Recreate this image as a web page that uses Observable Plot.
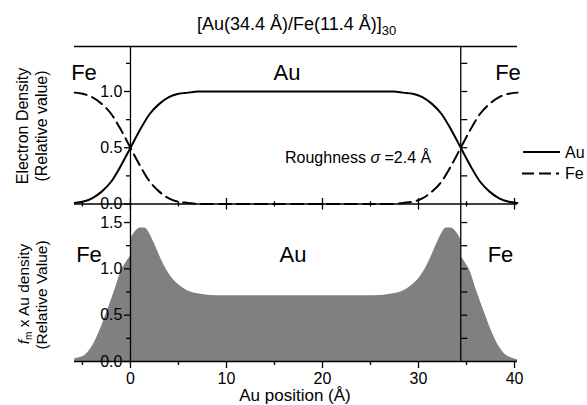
<!DOCTYPE html>
<html>
<head>
<meta charset="utf-8">
<script src="https://cdn.jsdelivr.net/npm/d3@7"></script>
<script src="https://cdn.jsdelivr.net/npm/@observablehq/plot@0.6"></script>
<style>
  html, body { margin: 0; padding: 0; background: #fff; }
  #chart { position: relative; width: 587px; height: 405px; overflow: hidden; color: #000; }
  #chart svg { position: absolute; left: 0; top: 0; }
</style>
</head>
<body>
<div id="chart"></div>
<script>
// ---------- values ----------
const interfaces = [0, 34.4];

// top panel: electron density profiles
const densityPosition = [-5.8, -5, -4, -3, -2, -1, 0, 1, 2, 3, 4, 5, 6, 7, 8, 17.2,
  26.4, 27.4, 28.4, 29.4, 30.4, 31.4, 32.4, 33.4, 34.4, 35.4, 36.4, 37.4, 38.4, 39.4, 40.3];
const auDensity = [0.01, 0.02, 0.05, 0.11, 0.20, 0.34, 0.50, 0.66, 0.80, 0.89, 0.95, 0.98, 0.99, 1.00, 1.00, 1.00,
  1.00, 1.00, 0.99, 0.98, 0.95, 0.89, 0.80, 0.66, 0.50, 0.34, 0.20, 0.11, 0.05, 0.02, 0.01];
const feDensity = [0.99, 0.98, 0.95, 0.89, 0.80, 0.66, 0.50, 0.34, 0.20, 0.11, 0.05, 0.02, 0.01, 0.00, 0.00, 0.00,
  0.00, 0.00, 0.01, 0.02, 0.05, 0.11, 0.20, 0.34, 0.50, 0.66, 0.80, 0.89, 0.95, 0.98, 0.99];

// bottom panel: f_m x Au density
const fmPosition = [
  -5.8, -5.0, -4.5, -4.0, -3.5, -3.0, -2.5, -2.0, -1.5, -1.0, -0.5, 0,
  0, 0.5, 1.0, 1.5, 2.0, 2.5, 3.0, 3.5, 4.0, 4.5, 5.0, 5.5, 6.0, 7.0, 8.0, 9.0, 17.2,
  25.4, 26.4, 27.4, 28.4, 28.9, 29.4, 29.9, 30.4, 30.9, 31.4, 31.9, 32.4, 32.9, 33.4, 33.9, 34.4,
  34.4, 34.9, 35.4, 35.9, 36.4, 36.9, 37.4, 37.9, 38.4, 38.9, 39.4, 40.3];
const fmValue = [
  0.03, 0.05, 0.09, 0.16, 0.26, 0.38, 0.52, 0.66, 0.81, 0.97, 1.06, 1.14,
  1.32, 1.40, 1.44, 1.44, 1.38, 1.27, 1.15, 1.04, 0.95, 0.88, 0.83, 0.79, 0.76, 0.73, 0.715, 0.71, 0.71,
  0.71, 0.715, 0.73, 0.76, 0.79, 0.83, 0.88, 0.95, 1.04, 1.15, 1.27, 1.38, 1.44, 1.44, 1.40, 1.32,
  1.14, 1.06, 0.97, 0.81, 0.66, 0.52, 0.38, 0.26, 0.16, 0.09, 0.05, 0.02];
const fmLayer = [
  ...Array(12).fill("Fe (left)"),
  ...Array(33).fill("Au"),
  ...Array(12).fill("Fe (right)")];

// ticks
const xMajorTicks = [0, 10, 20, 30, 40];
const xMinorTicks = [-5, 5, 15, 25, 35];
const topMajorTicks = [0, 0.5, 1.0];
const topMinorTicks = [0.25, 0.75, 1.25];
const bottomMajorTicks = [0, 0.5, 1.0, 1.5];
const bottomMinorTicks = [0.25, 0.75, 1.25];

// ---------- layout ----------
const densityRows = densityPosition.map((x, i) => ({x, au: auDensity[i], fe: feDensity[i]}));
const fmRows = fmPosition.map((x, i) => ({x, value: fmValue[i], layer: fmLayer[i]}));

const W = 587, H = 405, mL = 74, mR = 70;
const topFrame = [46, 203.5], botFrame = [203.5, 361];
const xDomain = [-5.83, 40.31];
const topDomain = [0, 1.4], botDomain = [0, 1.7];
const xPixel = d3.scaleLinear(xDomain, [mL, W - mR]);
const yAxisShift = xPixel(interfaces[0]) - mL;
const rightAxisShift = (W - mR) - xPixel(interfaces[1]);
const font = "'Liberation Sans', Arial, Helvetica, sans-serif";
const base = {
  width: W, height: H, marginLeft: mL, marginRight: mR,
  style: {background: "transparent", fontFamily: font, overflow: "visible", color: "black"}
};
const noText = () => "";
const tickStyle = {strokeWidth: 1.3, label: null, fontSize: 16};

function yAxes(major, minor) {
  return [
    Plot.axisY(major, {anchor: "left", dx: yAxisShift, tickSize: 6, tickPadding: 2, tickFormat: d3.format(".1f"), ...tickStyle}),
    Plot.axisY(minor, {anchor: "left", dx: yAxisShift, tickSize: 4, tickFormat: noText, ...tickStyle}),
    Plot.axisY([...major.filter(d => d > 0), ...minor], {anchor: "right", dx: -rightAxisShift, tickSize: 6, tickFormat: noText, ...tickStyle})
  ];
}

function annotations() {
  const g = d3.create("svg:g").attr("font-family", font).attr("fill", "black").attr("text-anchor", "start");
  const big = [["Fe", 84, 80], ["Au", 287, 80], ["Fe", 508, 80], ["Fe", 89, 262], ["Au", 293, 262], ["Fe", 500.5, 262]];
  for (const [t, x, y] of big) g.append("text").attr("x", x).attr("y", y).attr("font-size", 22).attr("text-anchor", "middle").text(t);

  // title
  const title = g.append("text").attr("x", 197).attr("y", 30).attr("font-size", 18).attr("text-anchor", "start");
  title.append("tspan").text("[Au(34.4 Å)/Fe(11.4 Å)]");
  title.append("tspan").attr("font-size", 13).attr("dy", 5).text("30");

  // roughness note
  const r = g.append("text").attr("x", 285).attr("y", 163).attr("font-size", 16).attr("text-anchor", "start");
  r.append("tspan").text("Roughness ");
  r.append("tspan").attr("font-style", "italic").text("σ");
  r.append("tspan").text(" =2.4 Å");

  // y labels
  g.append("text").attr("transform", "translate(28,126) rotate(-90)").attr("text-anchor", "middle").attr("font-size", 16).text("Electron Density");
  g.append("text").attr("transform", "translate(47,126) rotate(-90)").attr("text-anchor", "middle").attr("font-size", 16).text("(Relative value)");
  const fl = g.append("text").attr("transform", "translate(29,294) rotate(-90)").attr("text-anchor", "middle").attr("font-size", 15.5);
  fl.append("tspan").attr("font-style", "italic").text("f");
  fl.append("tspan").attr("font-size", 10).attr("dy", 3).text("m");
  fl.append("tspan").attr("dy", -3).text(" x Au density");
  g.append("text").attr("transform", "translate(47,295) rotate(-90)").attr("text-anchor", "middle").attr("font-size", 15.5).text("(Relative Value)");

  // x label
  g.append("text").attr("x", 295).attr("y", 401).attr("text-anchor", "middle").attr("font-size", 17).text("Au position (Å)");

  // legend
  g.append("line").attr("x1", 523).attr("x2", 560).attr("y1", 152).attr("y2", 152).attr("stroke", "black").attr("stroke-width", 2);
  g.append("text").attr("x", 565).attr("y", 157.5).attr("font-size", 16).attr("text-anchor", "start").text("Au");
  g.append("line").attr("x1", 522).attr("x2", 559).attr("y1", 173.5).attr("y2", 173.5).attr("stroke", "black").attr("stroke-width", 2).attr("stroke-dasharray", "12,5");
  g.append("text").attr("x", 565).attr("y", 179).attr("font-size", 16).attr("text-anchor", "start").text("Fe");
  return g.node();
}

const topPlot = Plot.plot({
  ...base,
  marginTop: topFrame[0], marginBottom: H - topFrame[1],
  x: {domain: xDomain},
  y: {domain: topDomain},
  marks: [
    Plot.ruleY([topDomain[1]], {strokeWidth: 1.5}),
    Plot.ruleY([0], {strokeWidth: 1.5}),
    Plot.ruleX(interfaces, {strokeWidth: 1.3}),
    ...yAxes(topMajorTicks, topMinorTicks),
    Plot.axisX(xMajorTicks, {anchor: "bottom", tickSize: 6, tickFormat: noText, ...tickStyle}),
    Plot.axisX(xMinorTicks, {anchor: "bottom", tickSize: 3, tickFormat: noText, ...tickStyle}),
    Plot.axisX(xMajorTicks, {anchor: "top", dy: topFrame[1] - topFrame[0], tickSize: 6.5, tickFormat: noText, ...tickStyle}),
    Plot.axisX(xMinorTicks, {anchor: "top", dy: topFrame[1] - topFrame[0], tickSize: 3.3, tickFormat: noText, ...tickStyle}),
    Plot.line(densityRows, {x: "x", y: "fe", stroke: "black", strokeWidth: 2, strokeDasharray: "12,6", curve: "monotone-x"}),
    Plot.line(densityRows, {x: "x", y: "au", stroke: "black", strokeWidth: 2, curve: "monotone-x"})
  ]
});

const bottomPlot = Plot.plot({
  ...base,
  marginTop: botFrame[0], marginBottom: H - botFrame[1],
  x: {domain: xDomain},
  y: {domain: botDomain},
  marks: [
    Plot.areaY(fmRows, {x: "x", y1: 0, y2: "value", z: "layer", fill: "#808080", curve: "monotone-x"}),
    Plot.ruleY([0], {strokeWidth: 1.5}),
    Plot.ruleX(interfaces, {strokeWidth: 1.3}),
    ...yAxes(bottomMajorTicks, bottomMinorTicks),
    Plot.axisX(xMajorTicks, {anchor: "bottom", tickSize: 7, tickPadding: 4, tickFormat: d3.format("d"), ...tickStyle}),
    Plot.axisX(xMinorTicks, {anchor: "bottom", tickSize: 4, tickFormat: noText, ...tickStyle}),
    () => annotations()
  ]
});

document.getElementById("chart").append(topPlot, bottomPlot);
</script>
</body>
</html>
